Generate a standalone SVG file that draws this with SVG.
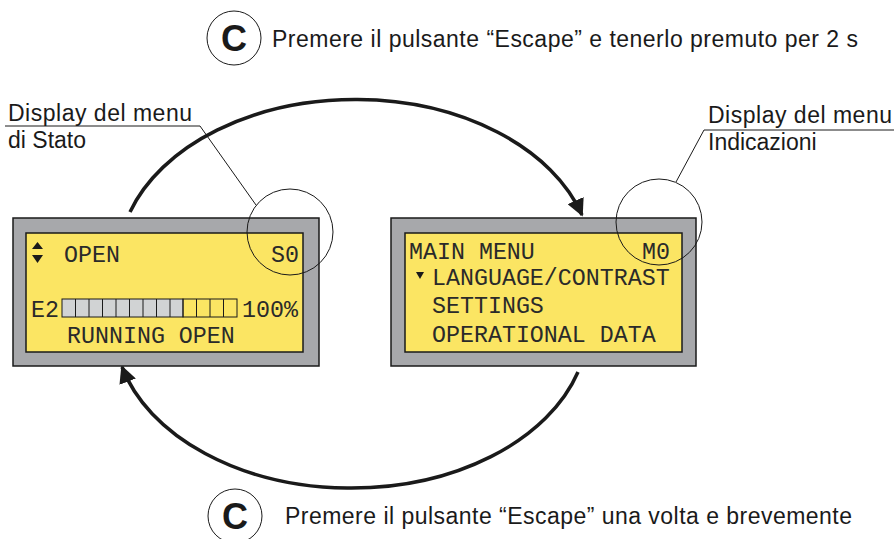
<svg xmlns="http://www.w3.org/2000/svg" width="894" height="539" viewBox="0 0 894 539">
<defs>
<style>
.outer{fill:#a7a8ab;stroke:#1a1a1a;stroke-width:1.5}
.inner{fill:#fbe563;stroke:#1a1a1a;stroke-width:1.5}
.lcd{font-family:"Liberation Mono",monospace;font-size:23.3px;fill:#2a2a2a}
.lbl{font-family:"Liberation Sans",Arial,sans-serif;font-size:23px;fill:#1a1a1a}
.cap{font-family:"Liberation Sans",Arial,sans-serif;font-size:36px;font-weight:bold;fill:#1a1a1a}
.thin{fill:none;stroke:#1a1a1a;stroke-width:1}
.arc{fill:none;stroke:#1a1a1a;stroke-width:3.5}
.cell{stroke:#1a1a1a;stroke-width:1}
</style>
<marker id="ah" viewBox="0 0 10 10" refX="9" refY="5" markerWidth="5" markerHeight="5" orient="auto" markerUnits="strokeWidth">
<path d="M0,0 L10,5 L0,10 Z" fill="#1a1a1a"/>
</marker>
</defs>

<g id="title-top">
<circle cx="234" cy="38" r="27" class="thin"/>
<text x="234" y="51" text-anchor="middle" class="cap">C</text>
<text x="272" y="47" class="lbl" textLength="586" lengthAdjust="spacing">Premere il pulsante “Escape” e tenerlo premuto per 2 s</text>
</g>

<g id="title-bottom">
<circle cx="235" cy="516" r="27" class="thin"/>
<text x="235" y="529" text-anchor="middle" class="cap">C</text>
<text x="285" y="524" class="lbl" textLength="567" lengthAdjust="spacing">Premere il pulsante “Escape” una volta e brevemente</text>
</g>

<g id="connectors">
<path class="arc" d="M130,212 A237,163 0 0 1 582,215" marker-end="url(#ah)"/>
<path class="arc" d="M578,372 A237,163 0 0 1 122,367" marker-end="url(#ah)"/>
</g>

<g id="display-stato">
<rect x="13" y="218" width="306" height="148" class="outer"/>
<rect x="26" y="233" width="277" height="119" class="inner"/>
<path d="M37.5,242 L43,249 L32,249 Z M32,255 L43,255 L37.5,263 Z" fill="#1a1a1a"/>
<text x="64" y="262" class="lcd">OPEN</text>
<text x="271" y="262" class="lcd">S0</text>
<text x="31" y="317" class="lcd">E2</text>
<g class="cell">
<rect x="62" y="299" width="121" height="18" fill="#d1d3d4"/>
<rect x="183" y="299" width="54" height="18" fill="none"/>
<path d="M75.5,299V317M89,299V317M102.5,299V317M116,299V317M129.5,299V317M143,299V317M156.5,299V317M170,299V317M196.5,299V317M210,299V317M223.5,299V317" fill="none"/>
</g>
<text x="242" y="317" class="lcd">100%</text>
<text x="67" y="343" class="lcd">RUNNING OPEN</text>
</g>

<g id="display-indicazioni">
<rect x="391" y="218" width="305" height="148" class="outer"/>
<rect x="405" y="233" width="277" height="119" class="inner"/>
<text x="409" y="259" class="lcd">MAIN MENU</text>
<text x="642" y="259" class="lcd">M0</text>
<path d="M416,272 L424,272 L420,279 Z" fill="#1a1a1a"/>
<text x="432" y="285" class="lcd">LANGUAGE/CONTRAST</text>
<text x="432" y="313" class="lcd">SETTINGS</text>
<text x="432" y="342" class="lcd">OPERATIONAL DATA</text>
</g>

<g id="label-stato">
<circle cx="290" cy="232" r="43" class="thin"/>
<path d="M5,126 H200 L256,205" class="thin"/>
<text x="8" y="121" class="lbl" textLength="184" lengthAdjust="spacing">Display del menu</text>
<text x="8" y="148" class="lbl">di Stato</text>
</g>

<g id="label-indicazioni">
<circle cx="659" cy="222" r="43" class="thin"/>
<path d="M894,130 H704 L676,182" class="thin"/>
<text x="708" y="123" class="lbl" textLength="184" lengthAdjust="spacing">Display del menu</text>
<text x="708" y="150" class="lbl">Indicazioni</text>
</g>
</svg>
